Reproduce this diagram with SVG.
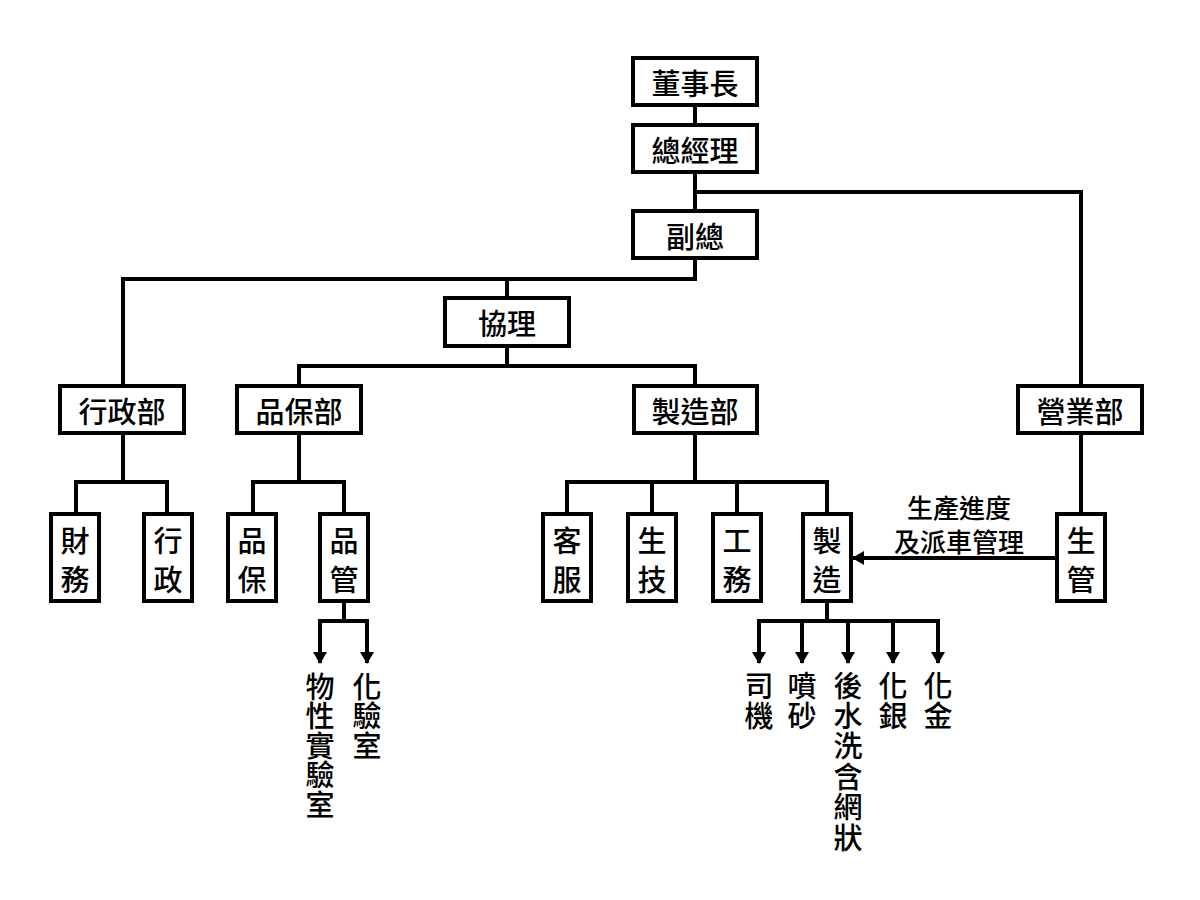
<svg xmlns="http://www.w3.org/2000/svg" width="1200" height="900" viewBox="0 0 1200 900">
<style>
.box{fill:#fff;stroke:#000;stroke-width:4}
.ln{fill:none;stroke:#000;stroke-width:4;stroke-linecap:square;stroke-linejoin:miter}
.ar{stroke:#000;stroke-width:4}
.t{font-family:"Noto Sans CJK TC","Noto Sans CJK SC",sans-serif;font-size:29px;font-weight:500;fill:#000;text-anchor:middle;dominant-baseline:central}
.v{font-family:"Noto Sans CJK TC","Noto Sans CJK SC",sans-serif;font-size:29px;font-weight:500;fill:#000;writing-mode:vertical-rl;text-anchor:start;letter-spacing:0.5px}
.v2{letter-spacing:1.4px}
.lab{font-size:26px}
</style>
<defs>
<marker id="ah" viewBox="0 0 12 14" refX="11" refY="7" markerWidth="12" markerHeight="14" markerUnits="userSpaceOnUse" orient="auto">
<path d="M0,0 L12,7 L0,14 Z" fill="#000"/>
</marker>
</defs>
<rect width="1200" height="900" fill="#fff"/>
<g id="connectors">
<polyline class="ln" points="695,105 695,125"/>
<polyline class="ln" points="695,172 695,211"/>
<polyline class="ln" points="695,192 1081,192 1081,386"/>
<polyline class="ln" points="695,258 695,279 123,279 123,386"/>
<polyline class="ln" points="507,279 507,298"/>
<polyline class="ln" points="507,346 507,366"/>
<polyline class="ln" points="299,386 299,366 695,366 695,386"/>
<polyline class="ln" points="123,433 123,482"/>
<polyline class="ln" points="76,514 76,482 167,482 167,514"/>
<polyline class="ln" points="299,433 299,482"/>
<polyline class="ln" points="253,514 253,482 344,482 344,514"/>
<polyline class="ln" points="695,433 695,482"/>
<polyline class="ln" points="567,514 567,482 827,482 827,514"/>
<polyline class="ln" points="652,482 652,514"/>
<polyline class="ln" points="737,482 737,514"/>
<polyline class="ln" points="1081,433 1081,514"/>
<polyline class="ln" points="344,601 344,621"/>
<polyline class="ln" points="320,650 320,621 367,621 367,650"/>
<line class="ar" x1="320" y1="640" x2="320" y2="663" marker-end="url(#ah)"/>
<line class="ar" x1="367" y1="640" x2="367" y2="663" marker-end="url(#ah)"/>
<polyline class="ln" points="827,601 827,621"/>
<polyline class="ln" points="759,650 759,621 938,621 938,650"/>
<line class="ln" x1="802" y1="621" x2="802" y2="650"/>
<line class="ln" x1="848" y1="621" x2="848" y2="650"/>
<line class="ln" x1="893" y1="621" x2="893" y2="650"/>
<line class="ar" x1="759" y1="640" x2="759" y2="663" marker-end="url(#ah)"/>
<line class="ar" x1="802" y1="640" x2="802" y2="663" marker-end="url(#ah)"/>
<line class="ar" x1="848" y1="640" x2="848" y2="663" marker-end="url(#ah)"/>
<line class="ar" x1="893" y1="640" x2="893" y2="663" marker-end="url(#ah)"/>
<line class="ar" x1="938" y1="640" x2="938" y2="663" marker-end="url(#ah)"/>
<line class="ar" x1="1056" y1="558" x2="853" y2="558" marker-end="url(#ah)"/>
<text class="t lab"><tspan x="959" y="506">生產進度</tspan><tspan x="959" y="540">及派車管理</tspan></text>
</g>
<g id="n-chairman"><rect class="box" x="633" y="58" width="124" height="47"/><text class="t" x="695" y="82">董事長</text></g>
<g id="n-gm"><rect class="box" x="633" y="125" width="124" height="47"/><text class="t" x="695" y="149">總經理</text></g>
<g id="n-vgm"><rect class="box" x="633" y="211" width="124" height="47"/><text class="t" x="695" y="235">副總</text></g>
<g id="n-assoc"><rect class="box" x="445" y="298" width="124" height="48"/><text class="t" x="507" y="322">協理</text></g>
<g id="n-admin"><rect class="box" x="60" y="386" width="124" height="47"/><text class="t" x="122" y="410">行政部</text></g>
<g id="n-qa"><rect class="box" x="237" y="386" width="124" height="47"/><text class="t" x="299" y="410">品保部</text></g>
<g id="n-mfg"><rect class="box" x="634" y="386" width="123" height="47"/><text class="t" x="695" y="410">製造部</text></g>
<g id="n-sales"><rect class="box" x="1018" y="386" width="124" height="47"/><text class="t" x="1080" y="410">營業部</text></g>
<g id="n-fin"><rect class="box" x="51" y="514" width="48" height="87"/><text class="t"><tspan x="75" y="539">財</tspan><tspan x="75" y="578">務</tspan></text></g>
<g id="n-adm2"><rect class="box" x="144" y="514" width="48" height="87"/><text class="t"><tspan x="168" y="539">行</tspan><tspan x="168" y="578">政</tspan></text></g>
<g id="n-qa2"><rect class="box" x="228" y="514" width="48" height="87"/><text class="t"><tspan x="252" y="539">品</tspan><tspan x="252" y="578">保</tspan></text></g>
<g id="n-qc"><rect class="box" x="320" y="514" width="48" height="87"/><text class="t"><tspan x="344" y="539">品</tspan><tspan x="344" y="578">管</tspan></text></g>
<g id="n-cs"><rect class="box" x="543" y="514" width="48" height="87"/><text class="t"><tspan x="567" y="539">客</tspan><tspan x="567" y="578">服</tspan></text></g>
<g id="n-tech"><rect class="box" x="628" y="514" width="48" height="87"/><text class="t"><tspan x="652" y="539">生</tspan><tspan x="652" y="578">技</tspan></text></g>
<g id="n-works"><rect class="box" x="713" y="514" width="48" height="87"/><text class="t"><tspan x="737" y="539">工</tspan><tspan x="737" y="578">務</tspan></text></g>
<g id="n-mfg2"><rect class="box" x="803" y="514" width="48" height="87"/><text class="t"><tspan x="827" y="539">製</tspan><tspan x="827" y="578">造</tspan></text></g>
<g id="n-pc"><rect class="box" x="1057" y="514" width="48" height="87"/><text class="t"><tspan x="1081" y="539">生</tspan><tspan x="1081" y="578">管</tspan></text></g>
<g id="n-phys"><text class="v" x="320" y="672">物性實驗室</text></g>
<g id="n-chem"><text class="v" x="367" y="672">化驗室</text></g>
<g id="n-driver"><text class="v v2" x="759" y="671">司機</text></g>
<g id="n-blast"><text class="v v2" x="802" y="671">噴砂</text></g>
<g id="n-wash"><text class="v v2" x="848" y="671">後水洗含網狀</text></g>
<g id="n-silver"><text class="v v2" x="893" y="671">化銀</text></g>
<g id="n-gold"><text class="v v2" x="938" y="671">化金</text></g>
</svg>
